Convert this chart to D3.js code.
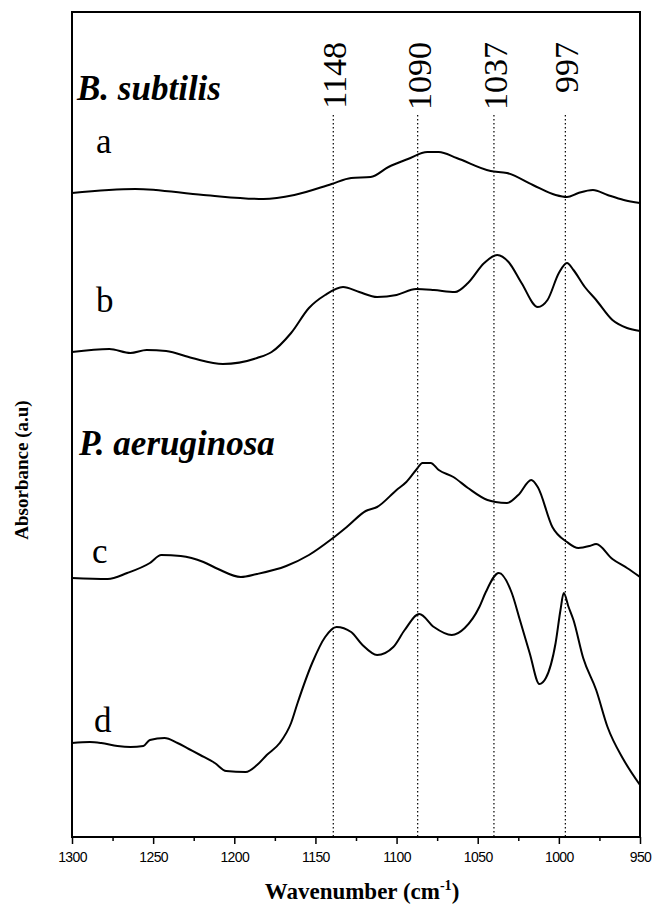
<!DOCTYPE html>
<html>
<head>
<meta charset="utf-8">
<script src="https://cdn.jsdelivr.net/npm/d3@7"></script>
<style>
  html, body { margin: 0; padding: 0; background: #fff; }
  svg { display: block; }
</style>
</head>
<body>
<div id="chart"></div>
<script>
// ---- data (wavenumber in cm-1, absorbance in a.u., offset stacked) ----
const wnA  = [1300,1261,1219,1182,1163,1140,1128,1116,1105,1093,1081,1074,1063,1042,1032,1016,1002,995,988,979,970,960,950];
const absA = [6.47,6.51,6.45,6.41,6.45,6.56,6.62,6.63,6.73,6.81,6.88,6.88,6.82,6.69,6.67,6.55,6.45,6.43,6.47,6.50,6.45,6.40,6.37];

const wnB  = [1300,1277,1264,1254,1242,1226,1207,1186,1177,1165,1154,1144,1133,1123,1112,1100,1088,1077,1064,1056,1046,1038,1031,1023,1013,1007,1000,995,991,984,977,967,958,950];
const absB = [4.88,4.91,4.87,4.90,4.89,4.82,4.76,4.82,4.88,5.07,5.32,5.45,5.53,5.48,5.43,5.45,5.51,5.50,5.48,5.57,5.77,5.85,5.78,5.57,5.33,5.40,5.67,5.77,5.70,5.53,5.40,5.20,5.12,5.09];

const wnC  = [1300,1278,1266,1252,1245,1233,1219,1210,1196,1186,1168,1154,1140,1130,1119,1112,1100,1094,1088,1084,1079,1074,1065,1056,1044,1039,1032,1025,1017,1013,1004,995,988,981,977,967,958,950];
const absC = [2.62,2.61,2.67,2.77,2.85,2.84,2.78,2.71,2.63,2.66,2.74,2.85,3.01,3.14,3.29,3.33,3.50,3.58,3.70,3.77,3.77,3.70,3.63,3.52,3.40,3.38,3.37,3.45,3.60,3.53,3.13,2.98,2.92,2.94,2.96,2.81,2.72,2.63];

const wnD  = [1300,1289,1282,1272,1264,1256,1252,1243,1235,1228,1221,1212,1205,1193,1186,1180,1172,1165,1161,1152,1144,1137,1128,1121,1112,1102,1095,1086,1077,1066,1058,1049,1045,1037,1029,1024,1018,1012,1008,1002,999,997,994,991,985,977,970,960,950];
const absD = [0.97,0.98,0.97,0.94,0.93,0.94,1.00,1.02,0.97,0.91,0.85,0.77,0.69,0.68,0.75,0.85,0.97,1.17,1.37,1.77,2.03,2.13,2.08,1.95,1.85,1.93,2.10,2.26,2.13,2.05,2.12,2.33,2.48,2.67,2.47,2.20,1.87,1.56,1.62,1.97,2.30,2.47,2.33,2.20,1.82,1.50,1.13,0.80,0.55];

const seriesNames = ["a","b","c","d"];
const peakPositions = [1139, 1087, 1040, 996];
const peakLabels = ["1148","1090","1037","997"];
const majorTicks = [1300,1250,1200,1150,1100,1050,1000,950];
const minorTicks = [1275,1225,1175,1125,1075,1025,975];
const groupNames = ["B. subtilis","P. aeruginosa"];

// ---- layout ----
const W = 653, H = 905;
const L = 72, R = 640, T = 12, B = 837;
const serif = "'Liberation Serif','Times New Roman',Times,serif";
const sans  = "'Liberation Sans',Arial,Helvetica,sans-serif";

const svg = d3.select("#chart").append("svg").attr("width", W).attr("height", H);

const x = d3.scaleLinear().domain([1300, 950]).range([L, R]);
const y = d3.scaleLinear().domain([0.03, 8.28]).range([B, T]);

// peak reference lines (dotted)
peakPositions.forEach((p, i) => {
  svg.append("line")
    .attr("x1", x(p)).attr("x2", x(p))
    .attr("y1", 115).attr("y2", B)
    .attr("stroke", "#000").attr("stroke-width", 1.2)
    .attr("stroke-dasharray", "1.6,2.4");
  svg.append("text")
    .attr("transform", `translate(${x(p) + 13},42) rotate(-90)`)
    .attr("text-anchor", "end")
    .attr("font-family", serif).attr("font-size", 34)
    .text(peakLabels[i]);
});

// spectra
const line = d3.line().x(d => x(d[0])).y(d => y(d[1])).curve(d3.curveMonotoneX);
const spectra = [[wnA, absA], [wnB, absB], [wnC, absC], [wnD, absD]];
spectra.forEach(([wn, ab]) => {
  svg.append("path")
    .datum(d3.zip(wn, ab))
    .attr("fill", "none").attr("stroke", "#000")
    .attr("stroke-width", 2).attr("stroke-linejoin", "round")
    .attr("d", line);
});

// axes
const gMinor = svg.append("g").attr("transform", `translate(0,${B})`)
  .call(d3.axisBottom(x).tickValues(minorTicks).tickSize(4).tickFormat(""));
const gMajor = svg.append("g").attr("transform", `translate(0,${B})`)
  .call(d3.axisBottom(x).tickValues(majorTicks).tickSize(7).tickPadding(8).tickFormat(d3.format("d")));
[gMinor, gMajor].forEach(g => {
  g.select(".domain").remove();
  g.selectAll(".tick line").attr("stroke", "#000").attr("stroke-width", 1.5);
});
gMajor.selectAll(".tick text")
  .attr("font-family", sans).attr("font-size", 14).attr("fill", "#000")
  .attr("letter-spacing", "-0.6");

// frame
svg.append("rect")
  .attr("x", L).attr("y", T).attr("width", R - L).attr("height", B - T)
  .attr("fill", "none").attr("stroke", "#000").attr("stroke-width", 2);

// group titles
svg.append("text").attr("x", 77).attr("y", 100)
  .attr("font-family", serif).attr("font-size", 35)
  .attr("font-weight", "bold").attr("font-style", "italic")
  .text(groupNames[0]);
svg.append("text").attr("x", 79).attr("y", 455)
  .attr("font-family", serif).attr("font-size", 35)
  .attr("font-weight", "bold").attr("font-style", "italic")
  .text(groupNames[1]);

// series letters
const letterPos = [[96,153],[96,312],[92,563],[94,732]];
seriesNames.forEach((s, i) => {
  svg.append("text").attr("x", letterPos[i][0]).attr("y", letterPos[i][1])
    .attr("font-family", serif).attr("font-size", 35).text(s);
});

// axis titles
const xt = svg.append("text")
  .attr("x", (L + R) / 2 + 6).attr("y", 899)
  .attr("text-anchor", "middle")
  .attr("font-family", serif).attr("font-size", 23).attr("font-weight", "bold");
xt.append("tspan").text("Wavenumber (cm");
xt.append("tspan").attr("font-size", 14).attr("dy", -9).text("-1");
xt.append("tspan").attr("dy", 9).text(")");

svg.append("text")
  .attr("transform", `translate(28,470) rotate(-90)`)
  .attr("text-anchor", "middle")
  .attr("font-family", serif).attr("font-size", 19).attr("font-weight", "bold")
  .text("Absorbance (a.u)");
</script>
</body>
</html>
